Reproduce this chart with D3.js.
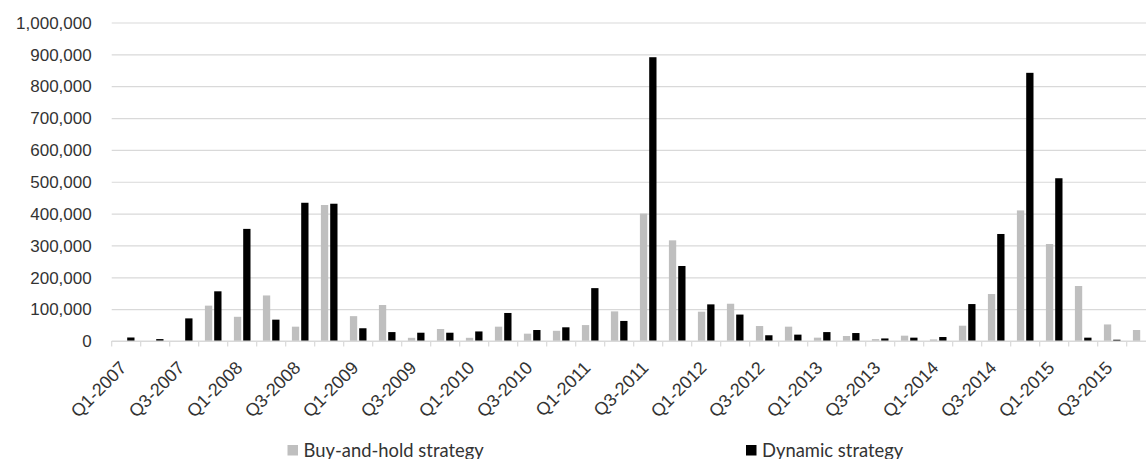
<!DOCTYPE html>
<html>
<head>
<meta charset="utf-8">
<script src="https://cdn.jsdelivr.net/npm/d3@7"></script>
<style>
  html, body { margin: 0; padding: 0; background: #fff; }
  svg { display: block; font-family: Lato, "Open Sans", sans-serif; }
  .axis text { fill: #333333; font-size: 17px; }
  .axis.x text { font-size: 18px; }
  .legend text { font-size: 18.4px; }
</style>
</head>
<body>
<svg id="chart" width="1146" height="459"></svg>
<script>
// Quarterly values, Q1-2007 .. Q4-2015
const quarters = [
  "Q1-2007","Q2-2007","Q3-2007","Q4-2007",
  "Q1-2008","Q2-2008","Q3-2008","Q4-2008",
  "Q1-2009","Q2-2009","Q3-2009","Q4-2009",
  "Q1-2010","Q2-2010","Q3-2010","Q4-2010",
  "Q1-2011","Q2-2011","Q3-2011","Q4-2011",
  "Q1-2012","Q2-2012","Q3-2012","Q4-2012",
  "Q1-2013","Q2-2013","Q3-2013","Q4-2013",
  "Q1-2014","Q2-2014","Q3-2014","Q4-2014",
  "Q1-2015","Q2-2015","Q3-2015","Q4-2015"
];

const buyAndHold = [
  0, 0, 0, 111000,
  76000, 143000, 45000, 427000,
  78000, 113000, 10000, 37700,
  10000, 45000, 23000, 32000,
  50000, 93000, 400000, 316000,
  92000, 117000, 47000, 45000,
  10500, 15700, 6000, 16700,
  5000, 48000, 147500, 410000,
  304500, 172700, 52000, 34500
];

const dynamic = [
  11000, 6000, 71000, 156000,
  352000, 67000, 434000, 431000,
  40000, 28000, 26000, 26000,
  30000, 88000, 34500, 43000,
  166000, 63000, 891000, 235500,
  115000, 83000, 18000, 20000,
  28000, 25000, 8000, 10500,
  12500, 116000, 336000, 842000,
  511000, 10500, 4000, 0
];

const seriesNames = ["Buy-and-hold strategy", "Dynamic strategy"];
const seriesColors = ["#bfbfbf", "#000000"];
const yTicks = [0,100000,200000,300000,400000,500000,600000,700000,800000,900000,1000000];

const svg = d3.select("#chart");
const W = 1146, H = 459;
svg.append("rect").attr("width", W).attr("height", H).attr("fill", "#fff");

const left = 111.7, step = 29.0;
const baseY = 341, topY = 22.5;

const x = d3.scaleBand()
  .domain(quarters)
  .range([left, left + step * quarters.length])
  .paddingInner(0).paddingOuter(0);

const xs = d3.scaleBand()
  .domain(seriesNames)
  .range([6.2, 22.8])
  .paddingInner(0.215);

const y = d3.scaleLinear().domain([0, 1000000]).range([baseY, topY]);

// gridlines + y labels
const yAxis = d3.axisLeft(y)
  .tickValues(yTicks)
  .tickFormat(d3.format(","))
  .tickSize(-(W - left + 40))
  .tickPadding(20);

const gy = svg.append("g")
  .attr("class", "axis y")
  .attr("transform", `translate(${left},0)`)
  .call(yAxis);
gy.select(".domain").remove();
gy.selectAll(".tick line").attr("stroke", "#d9d9d9").attr("stroke-width", 1.2);
gy.selectAll(".tick text").attr("dy", "0.34em");

// bars
const rows = quarters.map((q, i) => ({ q, vals: [buyAndHold[i], dynamic[i]] }));
const groups = svg.append("g").selectAll("g")
  .data(rows).join("g")
  .attr("transform", d => `translate(${x(d.q)},0)`);

groups.selectAll("rect")
  .data(d => d.vals.map((v, k) => ({ name: seriesNames[k], v, k })))
  .join("rect")
  .attr("x", d => xs(d.name))
  .attr("width", xs.bandwidth())
  .attr("y", d => y(d.v))
  .attr("height", d => baseY - y(d.v))
  .attr("fill", d => seriesColors[d.k]);

// category axis line and boundary ticks
svg.append("line")
  .attr("x1", left).attr("x2", W + 40)
  .attr("y1", baseY).attr("y2", baseY)
  .attr("stroke", "#d9d9d9").attr("stroke-width", 1.2);

const bounds = quarters.map(q => x(q)).concat([x.range()[1]]);
svg.append("g").selectAll("line")
  .data(bounds).join("line")
  .attr("x1", d => d).attr("x2", d => d)
  .attr("y1", baseY).attr("y2", baseY + 5.5)
  .attr("stroke", "#d9d9d9").attr("stroke-width", 1.2);

// rotated labels for every other quarter
const xAxis = d3.axisBottom(x)
  .tickValues(quarters.filter((q, i) => i % 2 === 0))
  .tickSize(0)
  .tickPadding(0);

const gx = svg.append("g")
  .attr("class", "axis x")
  .attr("transform", `translate(0,${baseY})`)
  .call(xAxis);
gx.select(".domain").remove();
gx.selectAll(".tick text")
  .attr("text-anchor", "end")
  .attr("y", 0).attr("dy", 0)
  .attr("transform", "translate(1.5,28) rotate(-45)");

// legend
const legendX = [287.5, 746];
const legend = svg.append("g").attr("class", "axis legend");
seriesNames.forEach((name, k) => {
  legend.append("rect")
    .attr("x", legendX[k]).attr("y", 445)
    .attr("width", 10.5).attr("height", 10.5)
    .attr("fill", seriesColors[k]);
  legend.append("text")
    .attr("x", legendX[k] + 16).attr("y", 456.5)
    .text(name);
});
</script>
</body>
</html>
